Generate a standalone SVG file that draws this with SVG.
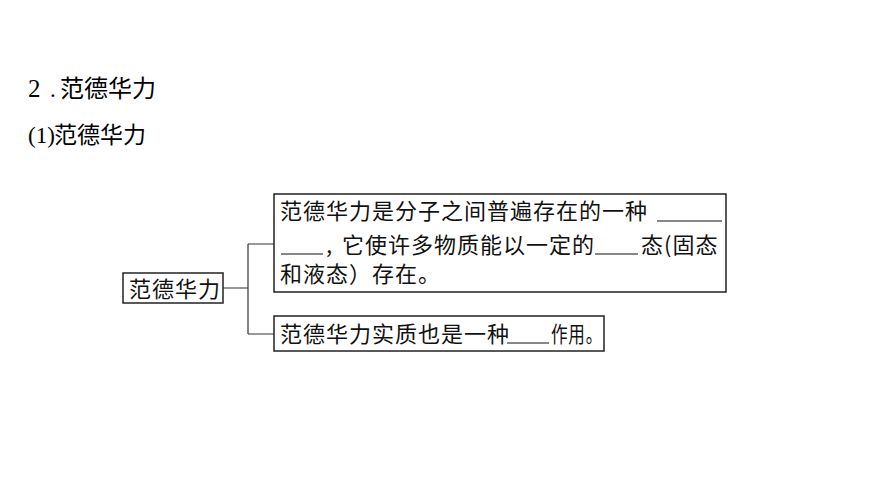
<svg xmlns="http://www.w3.org/2000/svg" width="870" height="489" viewBox="0 0 870 489">
<style>
.h{font-family:"Liberation Serif","Noto Sans CJK SC",sans-serif;font-size:23px;fill:#000}
.t{font-family:"Noto Sans CJK SC","Liberation Serif",serif;font-size:22px;fill:#111;letter-spacing:1px}
.box{fill:#fff;stroke:#222;stroke-width:1.5}
.ln{fill:none;stroke:#333;stroke-width:1.2}
.u{stroke:#111;stroke-width:1.2}
</style>
<rect width="870" height="489" fill="#fff"/>
<text class="h" y="97"><tspan x="28" font-size="25">2</tspan><tspan x="50">.</tspan><tspan x="60" font-size="24">范德华力</tspan></text>
<text class="h" y="143"><tspan x="28">(1)</tspan><tspan x="54">范德华力</tspan></text>
<g id="connectors">
<path class="ln" d="M223 288H248M248 244V334M248 244H274M248 334H274"/>
</g>
<g id="root">
<rect class="box" x="123" y="273" width="100" height="30"/>
<text class="t" x="129" y="297">范德华力</text>
</g>
<g id="node1">
<rect class="box" x="274" y="194" width="452" height="98"/>
<text class="t" x="280" y="219" letter-spacing="1.3">范德华力是分子之间普遍存在的一种</text>
<line class="u" x1="657" y1="221" x2="722" y2="221"/>
<line class="u" x1="281" y1="254" x2="323" y2="254"/>
<text class="t" x="326" y="253">,</text>
<text class="t" x="342" y="253">它使许多物质能以一定的</text>
<line class="u" x1="595" y1="254" x2="638" y2="254"/>
<text class="t" x="641" y="253">态(固态</text>
<text class="t" x="280" y="282">和液态）存在。</text>
</g>
<g id="node2">
<rect class="box" x="274" y="316" width="330" height="35"/>
<text class="t" x="280" y="342" letter-spacing="0.6">范德华力实质也是一种</text>
<line class="u" x1="507" y1="343" x2="549" y2="343"/>
<text class="t" x="551" y="342" font-size="21" letter-spacing="0" textLength="52" lengthAdjust="spacingAndGlyphs">作用。</text>
</g>
</svg>
